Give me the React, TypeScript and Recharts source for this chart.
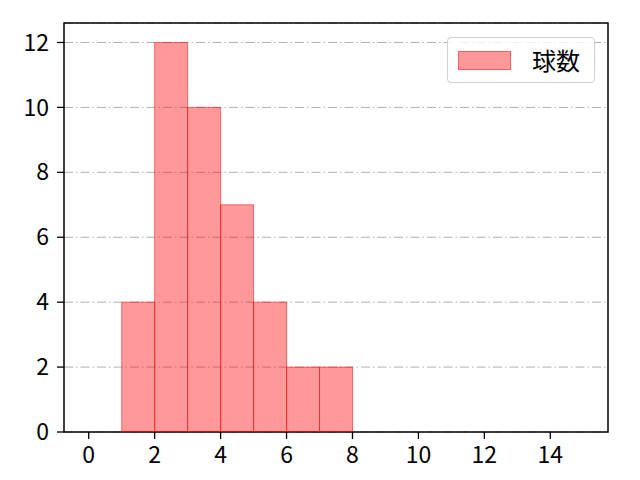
import React from "react";
import {
  ComposedChart,
  Bar,
  XAxis,
  YAxis,
  CartesianGrid,
  ReferenceArea,
} from "recharts";

const binStarts = [1, 2, 3, 4, 5, 6, 7];
const counts = [4, 12, 10, 7, 4, 2, 2];
const xTicks = [0, 2, 4, 6, 8, 10, 12, 14];
const yTicks = [0, 2, 4, 6, 8, 10, 12];
const seriesName = "球数";

const data = binStarts.map((s, i) => ({ center: s + 0.5, count: counts[i] }));

const X_DOMAIN: [number, number] = [-0.75, 15.75];
const Y_DOMAIN: [number, number] = [0, 12.6];

const FONT = "'Noto Sans CJK JP', 'Noto Sans', sans-serif";
const RED = "#ff0000";
const FS = 23;

const LegendBox = () => (
  <div
    style={{
      position: "absolute",
      left: 439,
      top: 29,
      width: 148,
      height: 46,
      border: "1px solid #d0d0d0",
      borderRadius: 4,
      background: "rgba(255,255,255,0.8)",
      boxSizing: "border-box",
      display: "flex",
      alignItems: "center",
      fontFamily: FONT,
      fontSize: 24,
      color: "#000",
    }}
  >
    <div
      style={{
        marginLeft: 10,
        width: 53,
        height: 19,
        background: "rgba(255,0,0,0.4)",
        border: "1px solid rgba(255,0,0,0.4)",
        boxSizing: "border-box",
        flexShrink: 0,
      }}
    />
    <span style={{ marginLeft: 21, lineHeight: 1 }}>{seriesName}</span>
  </div>
);

export default function App() {
  return (
    <div style={{ position: "relative", width: 624, height: 464 }}>
      <ComposedChart
        width={624}
        height={464}
        data={data}
        margin={{ top: 15, right: 24, bottom: 0, left: 6 }}
        barCategoryGap={0}
        barGap={0}
      >
        <CartesianGrid
          horizontal
          vertical={false}
          stroke="#b0b0b0"
          strokeDasharray="9 3 1.5 3"
          strokeWidth={1}
        />
        <XAxis
          dataKey="center"
          type="number"
          domain={X_DOMAIN}
          ticks={xTicks}
          allowDataOverflow
          height={40}
          tickLine={{ stroke: "#000", strokeWidth: 1.3 }}
          tickSize={7}
          axisLine={false}
          tick={{ fill: "#000", fontSize: FS, fontFamily: FONT }}
          tickMargin={8}
        />
        <YAxis
          type="number"
          domain={Y_DOMAIN}
          ticks={yTicks}
          allowDataOverflow
          width={50}
          tickLine={{ stroke: "#000", strokeWidth: 1.3 }}
          tickSize={7}
          axisLine={false}
          tick={{ fill: "#000", fontSize: FS, fontFamily: FONT }}
          tickMargin={8}
        />
        <Bar
          dataKey="count"
          name={seriesName}
          fill={RED}
          fillOpacity={0.4}
          stroke={RED}
          strokeOpacity={0.5}
          strokeWidth={1}
          isAnimationActive={false}
        />
        <ReferenceArea
          x1={X_DOMAIN[0]}
          x2={X_DOMAIN[1]}
          y1={Y_DOMAIN[0]}
          y2={Y_DOMAIN[1]}
          fill="none"
          fillOpacity={0}
          stroke="#000"
          strokeWidth={1.5}
          strokeOpacity={1}
          ifOverflow="visible"
        />
      </ComposedChart>
      <LegendBox />
    </div>
  );
}
